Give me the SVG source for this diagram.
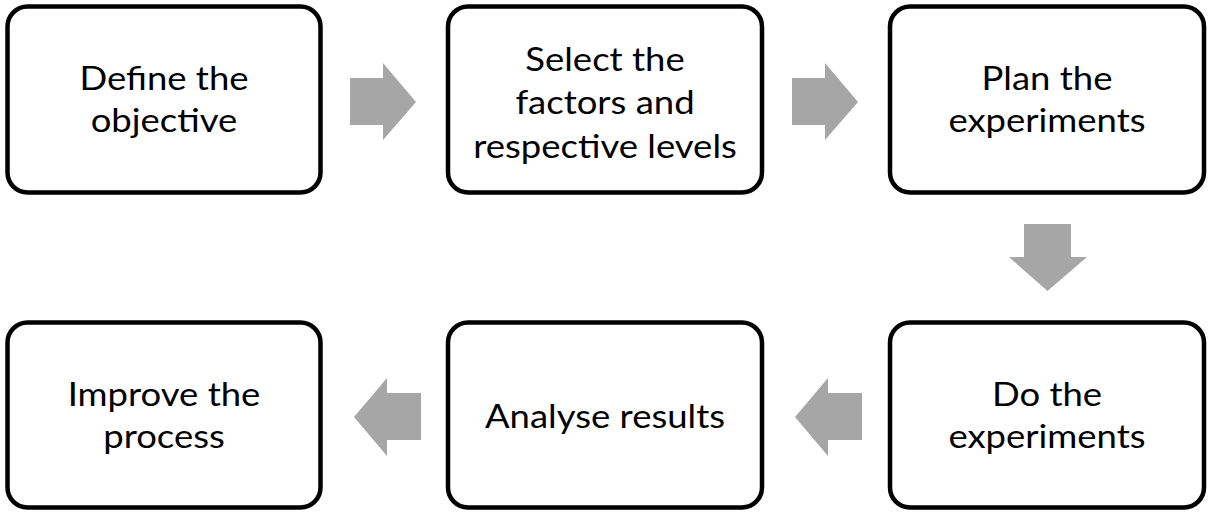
<svg xmlns="http://www.w3.org/2000/svg" width="1208" height="513" viewBox="0 0 1208 513">
  <style>
    .box { fill: #ffffff; stroke: #000000; stroke-width: 4.5; }
    .label { font-family: Lato, Carlito, "Liberation Sans", sans-serif; font-size: 33px; fill: #000000; text-anchor: middle; }
    .arrow { fill: #a6a6a6; stroke: none; }
  </style>
  <rect width="1208" height="513" fill="#ffffff"/>

  <!-- process steps, top row left to right; captions are widened slightly -->
  <g id="define-objective">
    <rect class="box" x="7.5" y="6.5" width="313" height="186" rx="20" ry="20"/>
    <g transform="matrix(1.106 0 0 1 164 0)">
      <text class="label" x="0" y="90.5">Define the</text>
      <text class="label" x="0" y="132.5">objective</text>
    </g>
  </g>
  <g id="select-factors">
    <rect class="box" x="448" y="6.5" width="314" height="186" rx="20" ry="20"/>
    <g transform="matrix(1.106 0 0 1 605 0)">
      <text class="label" x="0" y="71">Select the</text>
      <text class="label" x="0" y="114.5">factors and</text>
      <text class="label" x="0" y="158">respective levels</text>
    </g>
  </g>
  <g id="plan-experiments">
    <rect class="box" x="890" y="6.5" width="314" height="186" rx="20" ry="20"/>
    <g transform="matrix(1.106 0 0 1 1047 0)">
      <text class="label" x="0" y="90.5">Plan the</text>
      <text class="label" x="0" y="132.5">experiments</text>
    </g>
  </g>

  <!-- process steps, bottom row right to left -->
  <g id="do-experiments">
    <rect class="box" x="890" y="322.5" width="314" height="185" rx="20" ry="20"/>
    <g transform="matrix(1.106 0 0 1 1047 0)">
      <text class="label" x="0" y="406.5">Do the</text>
      <text class="label" x="0" y="448.5">experiments</text>
    </g>
  </g>
  <g id="analyse-results">
    <rect class="box" x="448" y="322.5" width="314" height="185" rx="20" ry="20"/>
    <g transform="matrix(1.106 0 0 1 605 0)">
      <text class="label" x="0" y="428">Analyse results</text>
    </g>
  </g>
  <g id="improve-process">
    <rect class="box" x="7.5" y="322.5" width="313" height="185" rx="20" ry="20"/>
    <g transform="matrix(1.106 0 0 1 164 0)">
      <text class="label" x="0" y="406.5">Improve the</text>
      <text class="label" x="0" y="448.5">process</text>
    </g>
  </g>

  <!-- block arrows between steps -->
  <g id="connectors">
    <polygon class="arrow" points="350,78 383,78 383,63 416,102 383,140 383,125 350,125"/>
    <polygon class="arrow" points="792,78 825,78 825,63 858,102 825,140 825,125 792,125"/>
    <polygon class="arrow" points="1024,224 1071,224 1071,257 1087,257 1047.5,291 1009,257 1024,257"/>
    <polygon class="arrow" points="862,393 862,440 828,440 828,456 795,417 828,378 828,393"/>
    <polygon class="arrow" points="421,393 421,440 387,440 387,456 354,417 387,378 387,393"/>
  </g>
</svg>
